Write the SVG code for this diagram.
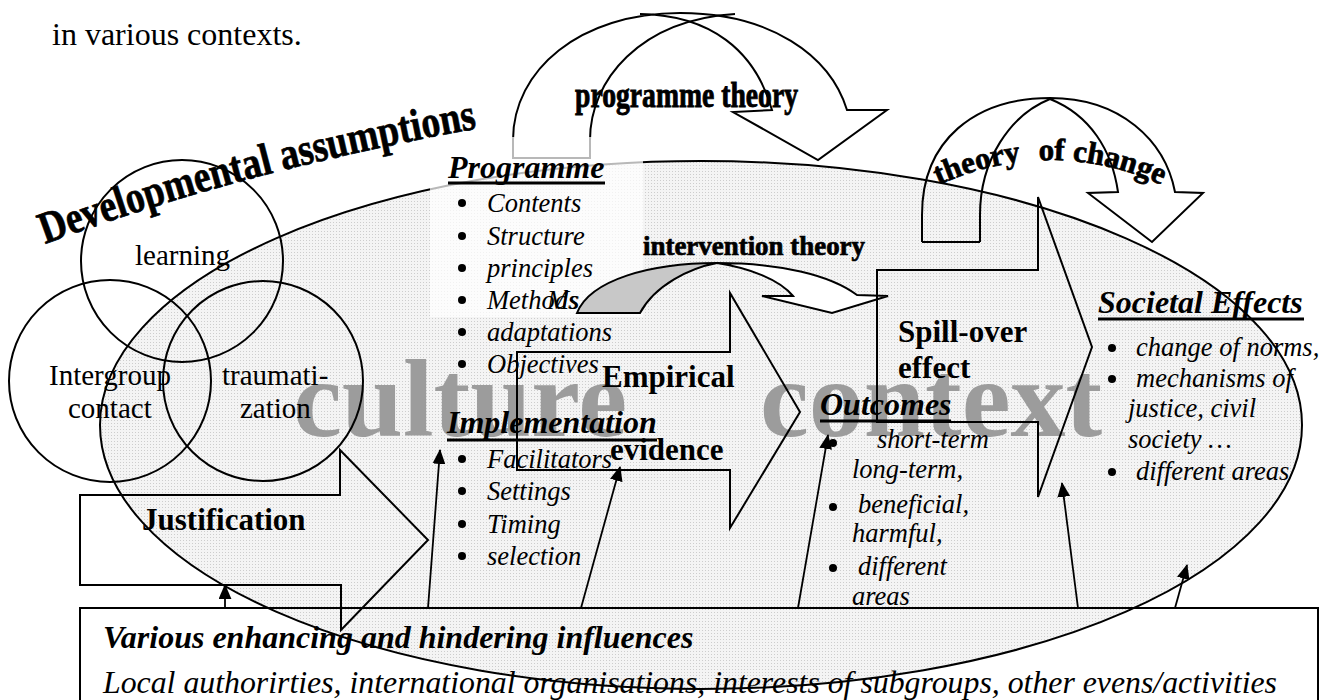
<svg xmlns="http://www.w3.org/2000/svg" width="1333" height="700" viewBox="0 0 1333 700">
<defs>
  <pattern id="dots" width="3" height="3" patternUnits="userSpaceOnUse">
    <rect width="3" height="3" fill="#f4f4f4"/>
    <rect width="1" height="1" fill="#cdcdcd"/>
  </pattern>
  <marker id="head" viewBox="0 0 14 12" refX="13" refY="6" markerWidth="15" markerHeight="13" markerUnits="userSpaceOnUse" orient="auto">
    <path d="M0,0 L14,6 L0,12 Z" fill="#000"/>
  </marker>
  <path id="devPath" d="M45,244 Q250,168 492,126"/>
  <path id="tocPath" d="M928,190 Q1050,130 1172,190"/>
</defs>
<style>
  text { font-family: "Liberation Serif", "Times New Roman", serif; fill: #000; }
  .line { fill: none; stroke: #000; stroke-width: 2; }
  .item { font-size: 26.5px; font-style: italic; }
  .dot { fill: #000; }
  .head { font-size: 32px; font-weight: bold; font-style: italic; }
  .bold { font-size: 31px; font-weight: bold; }
  .venn { font-size: 29px; }
  .word { font-weight: bold; stroke: #000; stroke-width: 0.7; }
  .ul { stroke: #000; stroke-width: 3; }
  .conn { stroke: #000; stroke-width: 1.8; fill: none; marker-end: url(#head); }
  .ghost { font-size: 110px; font-weight: bold; fill: #9c9c9c; }
</style>

<rect width="1333" height="700" fill="#fff"/>

<text x="52" y="45" font-size="32">in various contexts.</text>

<!-- context ellipse with the large grey caption -->
<g id="context">
  <ellipse cx="701" cy="425" rx="601" ry="264" fill="url(#dots)" stroke="#000" stroke-width="2"/>
  <text class="ghost" x="293" y="436">culture</text>
  <text class="ghost" x="760" y="436">context</text>
</g>

<!-- developmental assumptions: three overlapping circles -->
<g id="assumptions">
  <circle cx="182" cy="261" r="101" class="line"/>
  <circle cx="110" cy="381" r="101" class="line"/>
  <circle cx="263" cy="381" r="100" class="line"/>
  <text class="venn" x="135" y="265">learning</text>
  <text class="venn" x="49" y="385">Intergroup</text>
  <text class="venn" x="68" y="418">contact</text>
  <text class="venn" x="222" y="385">traumati-</text>
  <text class="venn" x="240" y="418">zation</text>
  <text class="word" font-size="45" textLength="448" lengthAdjust="spacingAndGlyphs"><textPath href="#devPath">Developmental assumptions</textPath></text>
</g>

<!-- programme theory arrow -->
<g id="programme-theory">
  <path class="line" d="M513,140 C513,70 580,13 680,13 C770,13 830,55 847,110 L887,110 L818,160 L733,112 L772,110 C755,50 710,15 640,14"/>
  <path class="line" d="M590,140 C590,80 640,20 735,14"/>
  <path class="line" d="M513,140 L513,158 L590,158 L590,140"/>
  <text class="word" font-size="28" transform="translate(575,107) scale(1,1.3)" textLength="223" lengthAdjust="spacingAndGlyphs">programme theory</text>
</g>

<!-- programme box -->
<g id="programme">
  <rect x="430" y="137" width="213" height="180" fill="#fff" fill-opacity="0.72"/>
  <text class="head" x="448" y="178">Programme</text>
  <line class="ul" x1="448" y1="183" x2="605" y2="183"/>
  <circle class="dot" cx="462" cy="203" r="4"/><text class="item" x="487" y="212">Contents</text>
  <circle class="dot" cx="462" cy="236" r="4"/><text class="item" x="487" y="245">Structure</text>
  <circle class="dot" cx="462" cy="268" r="4"/><text class="item" x="487" y="277">principles</text>
  <circle class="dot" cx="462" cy="300" r="4"/><text class="item" x="487" y="309">Methods</text>
  <text class="item" x="547" y="309">Ms</text>
  <circle class="dot" cx="462" cy="332" r="4"/><text class="item" x="487" y="341">adaptations</text>
  <circle class="dot" cx="462" cy="364" r="4"/><text class="item" x="487" y="373">Objectives</text>
</g>

<!-- intervention theory arrow -->
<g id="intervention-theory">
  <path d="M577,313 C590,280 650,263 717,263 C690,268 655,285 640,313 Z" fill="#c8c8c8" stroke="#000" stroke-width="2"/>
  <path d="M717,263 C780,263 830,275 857,295 L888,296 L832,313 L762,296 L793,296 C780,280 750,268 717,263 Z" fill="#fff" stroke="#000" stroke-width="2"/>
  <text class="word" x="643" y="255" font-size="27" textLength="222" lengthAdjust="spacingAndGlyphs">intervention theory</text>
</g>

<!-- empirical evidence arrow -->
<g id="empirical">
  <path class="line" d="M517,352 L730,352 L730,293 L800,412 L730,528 L730,470 L517,470 Z"/>
  <text class="bold" x="602" y="387">Empirical</text>
  <text class="bold" x="610" y="460">evidence</text>
</g>

<!-- implementation -->
<g id="implementation">
  <text class="head" x="447" y="433">Implementation</text>
  <line class="ul" x1="447" y1="440" x2="657" y2="440"/>
  <circle class="dot" cx="462" cy="459" r="4"/><text class="item" x="487" y="468">Facilitators</text>
  <circle class="dot" cx="462" cy="491" r="4"/><text class="item" x="487" y="500">Settings</text>
  <circle class="dot" cx="462" cy="524" r="4"/><text class="item" x="487" y="533">Timing</text>
  <circle class="dot" cx="462" cy="556" r="4"/><text class="item" x="487" y="565">selection</text>
</g>

<!-- justification arrow -->
<g id="justification">
  <path class="line" d="M80,495 L340,495 L340,450 L428,540 L341,630 L341,585 L80,585 Z"/>
  <text class="bold" x="142" y="530">Justification</text>
</g>

<!-- spill-over arrow -->
<g id="spill-over">
  <path class="line" d="M877,270 L1038,270 L1038,197 L1092,347 L1038,497 L1038,422 L877,422 Z"/>
  <text class="bold" x="898" y="342">Spill-over</text>
  <text class="bold" x="898" y="378">effect</text>
</g>

<!-- outcomes -->
<g id="outcomes">
  <text class="head" x="820" y="415">Outcomes</text>
  <line class="ul" x1="820" y1="421" x2="951" y2="421"/>
  <circle class="dot" cx="833" cy="443" r="4"/><text class="item" x="877" y="448">short-term</text>
  <text class="item" x="852" y="478">long-term,</text>
  <circle class="dot" cx="833" cy="507" r="4"/><text class="item" x="858" y="513">beneficial,</text>
  <text class="item" x="852" y="542">harmful,</text>
  <circle class="dot" cx="833" cy="568" r="4"/><text class="item" x="858" y="575">different</text>
  <text class="item" x="852" y="605">areas</text>
</g>

<!-- theory of change arrow -->
<g id="theory-of-change">
  <path class="line" d="M922,242 L922,215 C922,140 975,98 1050,98 C1120,98 1165,140 1175,192 L1203,193 L1152,242 L1088,193 L1118,192 C1112,150 1090,115 1050,99"/>
  <path class="line" d="M980,242 L980,215 C980,160 1010,115 1050,99"/>
  <path class="line" d="M922,242 L980,242"/>
  <text class="word" font-size="31" text-anchor="middle"><textPath href="#tocPath" startOffset="50%">theory<tspan dx="10"> of change</tspan></textPath></text>
</g>

<!-- societal effects -->
<g id="societal">
  <text class="head" x="1098" y="313">Societal Effects</text>
  <line class="ul" x1="1098" y1="319" x2="1304" y2="319"/>
  <circle class="dot" cx="1112" cy="348" r="4"/><text class="item" x="1136" y="356">change of norms,</text>
  <circle class="dot" cx="1112" cy="379" r="4"/><text class="item" x="1136" y="387">mechanisms of</text>
  <text class="item" x="1128" y="417">justice, civil</text>
  <text class="item" x="1128" y="448">society …</text>
  <circle class="dot" cx="1112" cy="472" r="4"/><text class="item" x="1136" y="480">different areas</text>
</g>

<!-- influences box -->
<g id="influences">
  <rect x="80" y="608" width="1238" height="120" fill="none" stroke="#000" stroke-width="2"/>
  <text x="103" y="648" font-size="32" font-weight="bold" font-style="italic">Various enhancing and hindering influences</text>
  <text x="103" y="693" font-size="32" font-style="italic" textLength="1174" lengthAdjust="spacingAndGlyphs">Local authorirties, international organisations, interests of subgroups, other evens/activities</text>
</g>

<!-- influence connectors -->
<g id="connectors">
  <line class="conn" x1="225" y1="608" x2="225" y2="585"/>
  <line class="conn" x1="428" y1="608" x2="440" y2="450"/>
  <line class="conn" x1="581" y1="608" x2="620" y2="467"/>
  <line class="conn" x1="798" y1="608" x2="828" y2="435"/>
  <line class="conn" x1="1078" y1="608" x2="1062" y2="483"/>
  <line class="conn" x1="1175" y1="608" x2="1187" y2="565"/>
</g>
</svg>
